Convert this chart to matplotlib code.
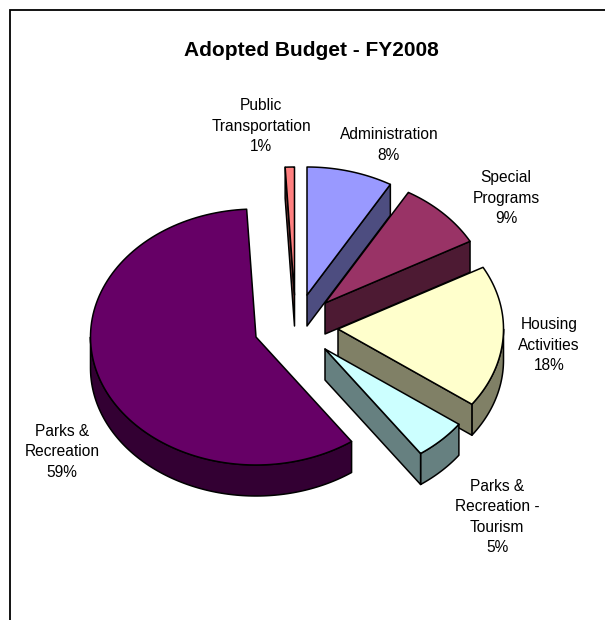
"""Exploded 3D-look pie chart of the adopted FY2008 budget."""
import numpy as np
import matplotlib
matplotlib.use('Agg')
import matplotlib.pyplot as plt
from matplotlib.patches import Polygon

plt.rcParams['font.family'] = ['Liberation Sans', 'DejaVu Sans']

# Data, clockwise from 12 o'clock
categories = ['Administration', 'Special\nPrograms', 'Housing\nActivities',
              'Parks &\nRecreation -\nTourism', 'Parks &\nRecreation',
              'Public\nTransportation']
shares = [8.4, 8.6, 18.0, 5.2, 58.9, 0.9]
percent_labels = ['8%', '9%', '18%', '5%', '59%', '1%']

# Style and layout, in pixels
top_colors = ['#9999FF', '#993366', '#FFFFCC', '#CCFFFF', '#660066', '#FF8080']
side_colors = ['#4D4D80', '#4D1A33', '#808066', '#668080', '#330033', '#804040']
apexes = [(307, 295), (325, 303), (338, 329), (325, 349), (256, 337), (294.5, 295)]
label_pos = [(389, 145), (506, 198), (549, 345), (497, 517), (62, 452), (261, 126)]
RX, RY, DEPTH = 165.5, 128, 31
LW = 1.1


def rim_point(apex, theta):
    # theta in radians, clockwise from the top of the flattened ellipse
    return np.column_stack([apex[0] + RX * np.sin(theta),
                            apex[1] - RY * np.cos(theta)])


def add_poly(ax, points, color, z):
    ax.add_patch(Polygon(points, closed=True, facecolor=color, edgecolor='black',
                         linewidth=LW, joinstyle='round', zorder=z))


fig = plt.figure(figsize=(6.05, 6.20), dpi=100)
ax = fig.add_axes([0, 0, 1, 1])
ax.set_xlim(0, 605)
ax.set_ylim(620, 0)
ax.axis('off')

edges = np.radians(np.cumsum([0] + shares) * 3.6)
drop = np.array([0, DEPTH])

for i in range(len(shares)):
    start, end = edges[i], edges[i + 1]
    apex = np.array(apexes[i], dtype=float)
    z = 2 + i * 3
    arc = rim_point(apex, np.linspace(start, end, 120))

    # outer rim, only where it faces the viewer
    lo, hi = max(start, np.pi / 2), min(end, 3 * np.pi / 2)
    if lo < hi:
        front = rim_point(apex, np.linspace(lo, hi, 120))
        add_poly(ax, np.vstack([front, (front + drop)[::-1]]), side_colors[i], z)

    # radial cut faces that can be seen
    if i == len(shares) - 1:
        cut = np.vstack([arc[0], apex, apex + drop, arc[0] + drop])
        add_poly(ax, cut, side_colors[i], z + 1)
    elif end < np.pi:
        cut = np.vstack([apex, arc[-1], arc[-1] + drop, apex + drop])
        add_poly(ax, cut, side_colors[i], z + 1)

    add_poly(ax, np.vstack([apex, arc]), top_colors[i], z + 2)

for name, pct, pos in zip(categories, percent_labels, label_pos):
    ax.text(pos[0], pos[1], f'{name}\n{pct}', ha='center', va='center',
            fontsize=11.2, linespacing=1.42, color='black')

ax.text(311, 51, 'Adopted Budget - FY2008', ha='center', va='center',
        fontsize=15, fontweight='bold', color='black')

# chart frame: top and left only reach the picture edges
ax.plot([9.5, 9.5, 605], [620, 9.5, 9.5], color='black', linewidth=1.3,
        solid_joinstyle='miter', zorder=50)

fig.savefig('out.png', dpi=100)
